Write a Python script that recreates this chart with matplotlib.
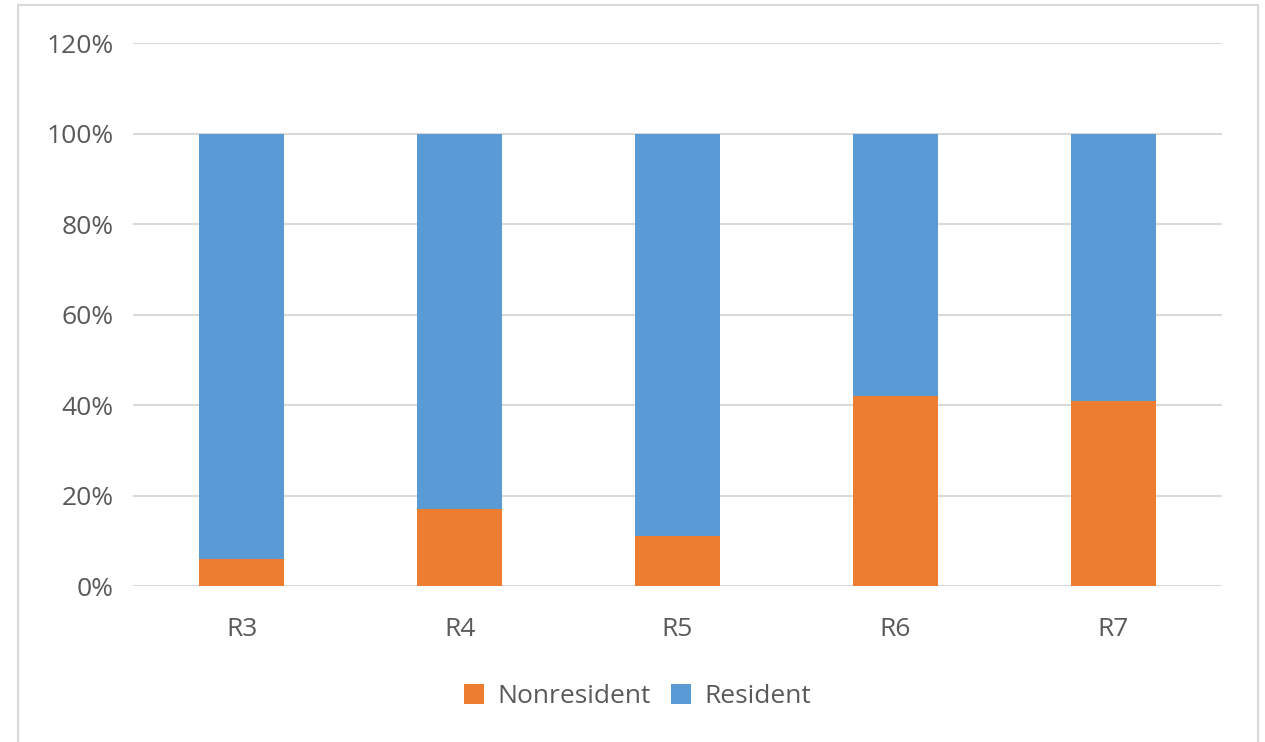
import matplotlib.pyplot as plt
from matplotlib.patches import Rectangle
from matplotlib.ticker import FuncFormatter
import numpy as np

categories = ["R3", "R4", "R5", "R6", "R7"]
nonresident = [0.06, 0.17, 0.11, 0.42, 0.41]
resident = [0.94, 0.83, 0.89, 0.58, 0.59]

orange = "#ED7D31"
blue = "#5B9BD5"
text_grey = "#595959"

plt.rcParams['font.family'] = ['Open Sans', 'DejaVu Sans']

fig = plt.figure(figsize=(12.65, 7.42), dpi=100)
ax = fig.add_axes([0.1051, 0.2102, 0.8609, 0.7312])

x = np.arange(len(categories))
w = 0.39
ax.bar(x, nonresident, w, color=orange, label="Nonresident", zorder=3)
ax.bar(x, resident, w, bottom=nonresident, color=blue, label="Resident", zorder=3)

ax.set_xlim(-0.5, len(categories) - 0.5)
ax.set_ylim(0, 1.2)
ax.set_yticks(np.arange(0, 1.21, 0.2))
ax.yaxis.set_major_formatter(FuncFormatter(lambda v, p: f"{v * 100:.0f}%"))
ax.set_xticks(x)
ax.set_xticklabels(categories)

ax.grid(axis="y", color="#d9d9d9", linewidth=1.5, zorder=0)
for s in ax.spines.values():
    s.set_visible(False)
ax.tick_params(axis="both", length=0, labelsize=19, colors=text_grey)
ax.tick_params(axis="y", pad=14)
ax.tick_params(axis="x", pad=22)

leg = fig.legend(loc="center", bbox_to_anchor=(0.504, 0.061), ncol=2, frameon=False,
                 fontsize=19, handlelength=0.75, handleheight=0.75,
                 handletextpad=0.5, columnspacing=0.8)
for t in leg.get_texts():
    t.set_color(text_grey)

# chart frame
fig.patches.append(Rectangle((18 / 1265, -0.05), 1240 / 1265, 1.05 - 5 / 742,
                             transform=fig.transFigure, fill=False,
                             edgecolor="#d9d9d9", linewidth=1.5))

fig.savefig("out.png", dpi=100)
